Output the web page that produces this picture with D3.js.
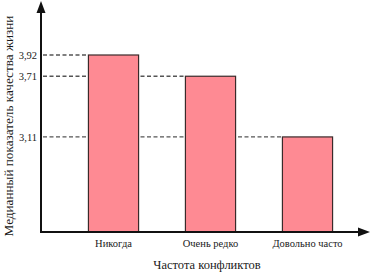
<!DOCTYPE html>
<html><head><meta charset="utf-8">
<script src="https://cdn.jsdelivr.net/npm/d3@7"></script>
<style>body{margin:0;background:#fff}text{font-family:"Liberation Serif","Times New Roman",serif;fill:#1a1a1a}</style>
</head><body><svg id="c" width="371" height="273"></svg>
<script>
const categories = ["Никогда", "Очень редко", "Довольно часто"];
const values = [3.92, 3.71, 3.11];
const tickLabels = ["3,92", "3,71", "3,11"];
const xTitle = "Частота конфликтов";
const yTitle = "Медианный показатель качества жизни";

const svg = d3.select("#c");
const axX = 41, baseY = 232;
const x = d3.scaleBand().domain(categories).range([axX, 380]).paddingInner(0.483).paddingOuter(0.489);
const y = d3.scaleLinear().domain([2.17, 3.92]).range([baseY, 55]);

// dashed reference lines (behind bars)
svg.selectAll("line.ref").data(values).join("line")
  .attr("x1", axX + 2).attr("x2", (d, i) => x(categories[i]))
  .attr("y1", d => y(d)).attr("y2", d => y(d))
  .attr("stroke", "#555").attr("stroke-width", 1.3).attr("stroke-dasharray", "4,2.5");

svg.selectAll("rect.bar").data(values).join("rect")
  .attr("x", (d, i) => x(categories[i])).attr("width", x.bandwidth())
  .attr("y", d => y(d)).attr("height", d => baseY - y(d))
  .attr("fill", "#fe8a93").attr("stroke", "#3a2a2a").attr("stroke-width", 1.2);

svg.selectAll("text.tick").data(values).join("text")
  .attr("x", 37).attr("y", d => y(d)).attr("dy", "0.35em")
  .attr("text-anchor", "end").attr("font-size", 10.5).text((d, i) => tickLabels[i]);

// axes with arrows
svg.append("line").attr("x1", axX).attr("x2", axX).attr("y1", baseY + 1).attr("y2", 8)
  .attr("stroke", "#111").attr("stroke-width", 2);
svg.append("path").attr("d", `M${axX},1 L${axX - 4.5},13 L${axX + 4.5},13 Z`).attr("fill", "#111");
svg.append("line").attr("x1", axX - 1).attr("x2", 362).attr("y1", baseY).attr("y2", baseY)
  .attr("stroke", "#111").attr("stroke-width", 2);
svg.append("path").attr("d", `M370,${baseY} L358,${baseY - 4.5} L358,${baseY + 4.5} Z`).attr("fill", "#111");

svg.selectAll("text.cat").data(categories).join("text")
  .attr("x", d => x(d) + x.bandwidth() / 2).attr("y", 247)
  .attr("text-anchor", "middle").attr("font-size", 10.5).text(d => d);

svg.append("text").attr("x", 207).attr("y", 269).attr("text-anchor", "middle")
  .attr("font-size", 12.5).text(xTitle);
svg.append("text").attr("transform", "translate(13,126) rotate(-90)")
  .attr("text-anchor", "middle").attr("font-size", 13.2).text(yTitle);
</script></body></html>
